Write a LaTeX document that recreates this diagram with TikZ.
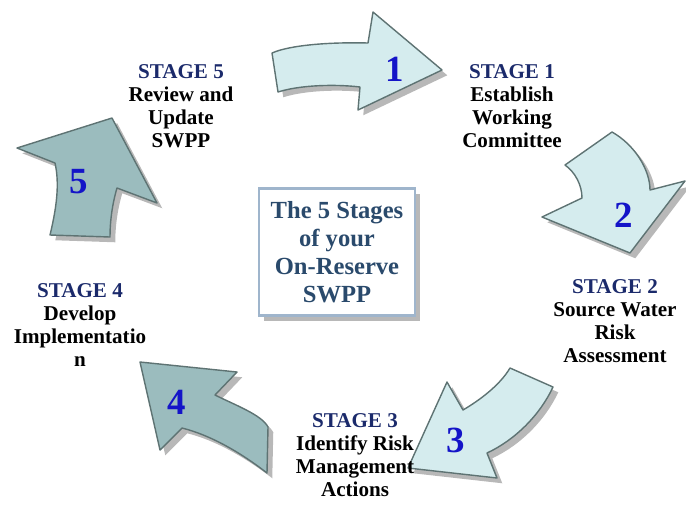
\documentclass[tikz,border=0pt]{standalone}
\usepackage{fontspec}
\setmainfont{Liberation Serif}
\usetikzlibrary{positioning, shadows}
\definecolor{stagenavy}{HTML}{1B2A6B}
\definecolor{numblue}{HTML}{1414C8}
\definecolor{paleaqua}{HTML}{D5ECEE}
\definecolor{greyteal}{HTML}{9BBCBE}
\definecolor{arrowedge}{HTML}{5E7373}
\definecolor{shade}{HTML}{B0B0B0}
\definecolor{boxedge}{HTML}{9FB5CC}
\definecolor{boxtext}{HTML}{2A4A6C}

\begin{document}
\begin{tikzpicture}[x=0.02cm, y=-0.02cm,
    bigarrow/.style={draw=arrowedge, line width=0.8pt, line join=round,
        drop shadow={shadow xshift=3pt, shadow yshift=-3pt, fill=shade, opacity=0.9}},
    stagenum/.style={text=numblue, font=\fontsize{21}{21}\selectfont\bfseries},
    stagetext/.style={align=center, font=\fontsize{12}{13}\selectfont\bfseries}]
    \useasboundingbox (0,0) rectangle (686,508);

    % the five curved arrows
    \path[bigarrow, fill=paleaqua] (272,53) .. controls (290,45) and (330,42) .. (368,43) -- (373,12) -- (442,70) -- (358,110) -- (360,87) .. controls (335,84) and (300,85) .. (278,92) -- cycle;
    \path[bigarrow, fill=paleaqua] (565,165) -- (612,132) .. controls (635,145) and (650,170) .. (650,190) -- (685,181) -- (630,253) -- (542,217) -- (582,198) .. controls (582,185) and (575,172) .. (565,165) -- cycle;
    \path[bigarrow, fill=paleaqua] (510,368) -- (553,387) .. controls (540,415) and (515,440) .. (487,453) -- (497,478) -- (408,468) -- (447,382) -- (463,410) .. controls (480,400) and (500,385) .. (510,368) -- cycle;
    \path[bigarrow, fill=greyteal] (140,362) -- (237,372) -- (215,395) .. controls (235,405) and (262,415) .. (268,427) -- (267,473) .. controls (240,452) and (210,435) .. (182,428) -- (160,450) -- cycle;
    \path[bigarrow, fill=greyteal] (17,148) -- (112,118) -- (157,203) -- (117,188) .. controls (112,205) and (110,222) .. (110,237) -- (50,235) .. controls (56,210) and (60,185) .. (55,163) -- cycle;

    \node[stagenum] (numone) at (395,69) {1};
    \node[stagenum] (numtwo) at (624,215) {2};
    \node[stagenum] (numthree) at (456,440) {3};
    \node[stagenum] (numfour) at (177,402) {4};
    \node[stagenum] (numfive) at (79,182) {5};

    % stage labels
    \node[stagetext] (stageone) at (512,106) {\textcolor{stagenavy}{STAGE 1}\\Establish\\Working\\Committee};
    \node[stagetext] (stagetwo) at (615,321) {\textcolor{stagenavy}{STAGE 2}\\Source Water\\Risk\\Assessment};
    \node[stagetext] (stagethree) at (355,455) {\textcolor{stagenavy}{STAGE 3}\\Identify Risk\\Management\\Actions};
    \node[stagetext] (stagefour) at (80,325) {\textcolor{stagenavy}{STAGE 4}\\Develop\\Implementatio\\n};
    \node[stagetext] (stagefive) at (181,106) {\textcolor{stagenavy}{STAGE 5}\\Review and\\Update\\SWPP};

    \node[draw=boxedge, line width=1.2pt, fill=white, minimum width=3.12cm, minimum height=2.54cm,
        drop shadow={shadow xshift=3pt, shadow yshift=-3pt, fill=shade, opacity=0.9},
        align=center, text=boxtext, font=\fontsize{14}{16}\selectfont\bfseries] (centerbox) at (337,252)
        {The 5 Stages\\of your\\On-Reserve\\SWPP};
\end{tikzpicture}
\end{document}
